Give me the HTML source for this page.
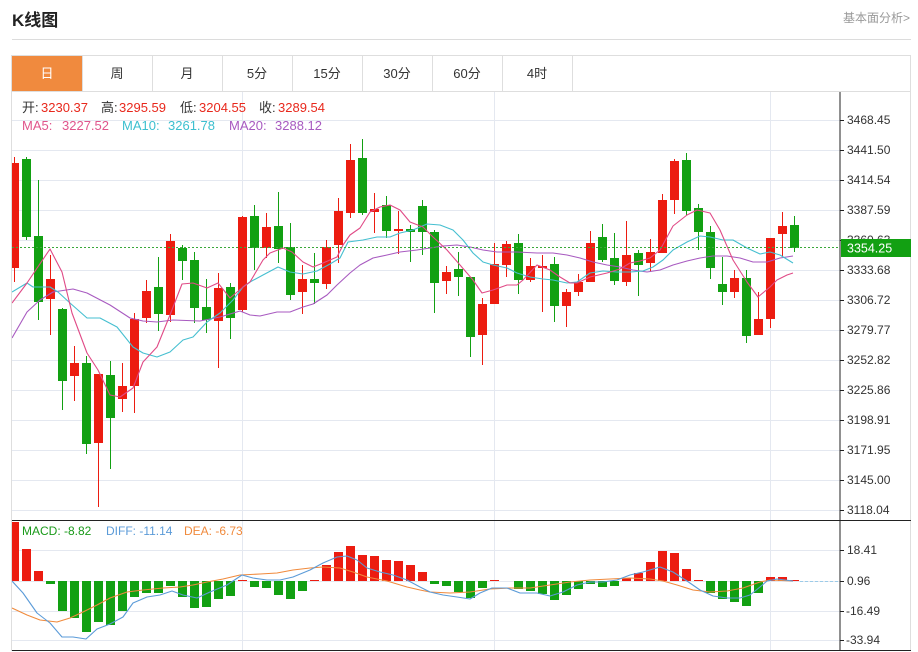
<!DOCTYPE html>
<html><head><meta charset="utf-8"><style>
html,body{margin:0;padding:0;background:#fff;}
svg{display:block;font-family:"Liberation Sans","Noto Sans CJK SC",sans-serif;}
</style></head><body>
<svg width="918" height="652" viewBox="0 0 918 652" xmlns="http://www.w3.org/2000/svg">
<defs>
<clipPath id="cm"><rect x="12" y="92" width="828" height="428"/></clipPath>
<clipPath id="cd"><rect x="12" y="521" width="828" height="129"/></clipPath>
</defs>
<!-- header -->
<text x="12" y="26" font-size="17" font-weight="bold" fill="#222">K线图</text>
<text x="910" y="22" font-size="12" fill="#999" text-anchor="end">基本面分析&gt;</text>
<rect x="12" y="39" width="899" height="1" fill="#dcdcdc"/>
<!-- outer box -->
<rect x="11.5" y="55.5" width="899" height="595" fill="none" stroke="#dedede"/>
<!-- tabs -->
<rect x="12" y="56" width="70" height="35" fill="#f08a3e"/>
<g fill="#dedede">
<rect x="82" y="56" width="1" height="35"/><rect x="152" y="56" width="1" height="35"/><rect x="222" y="56" width="1" height="35"/><rect x="292" y="56" width="1" height="35"/><rect x="362" y="56" width="1" height="35"/><rect x="432" y="56" width="1" height="35"/><rect x="502" y="56" width="1" height="35"/><rect x="572" y="56" width="1" height="35"/>
<rect x="12" y="91" width="899" height="1"/>
</g>
<g font-size="13" text-anchor="middle" fill="#333">
<text x="47" y="78" fill="#fff">日</text>
<text x="117" y="78">周</text>
<text x="187" y="78">月</text>
<text x="257" y="78">5分</text>
<text x="327" y="78">15分</text>
<text x="397" y="78">30分</text>
<text x="467" y="78">60分</text>
<text x="537" y="78">4时</text>
</g>
<!-- grid -->
<g fill="#e4e8f0">
<rect x="12" y="120" width="828" height="1"/><rect x="12" y="150" width="828" height="1"/><rect x="12" y="180" width="828" height="1"/><rect x="12" y="210" width="828" height="1"/><rect x="12" y="240" width="828" height="1"/><rect x="12" y="270" width="828" height="1"/><rect x="12" y="300" width="828" height="1"/><rect x="12" y="330" width="828" height="1"/><rect x="12" y="360" width="828" height="1"/><rect x="12" y="390" width="828" height="1"/><rect x="12" y="420" width="828" height="1"/><rect x="12" y="450" width="828" height="1"/><rect x="12" y="480" width="828" height="1"/><rect x="12" y="510" width="828" height="1"/>
<rect x="12" y="550" width="828" height="1"/><rect x="12" y="581" width="828" height="1"/><rect x="12" y="611" width="828" height="1"/><rect x="12" y="640" width="828" height="1"/>
<rect x="242" y="92" width="1" height="558"/><rect x="494" y="92" width="1" height="558"/><rect x="770" y="92" width="1" height="558"/>
</g>
<!-- info text -->
<g font-size="13">
<text x="22" y="112" fill="#333">开:</text><text x="41" y="112" fill="#e8281c">3230.37</text>
<text x="101" y="112" fill="#333">高:</text><text x="119" y="112" fill="#e8281c">3295.59</text>
<text x="180" y="112" fill="#333">低:</text><text x="199" y="112" fill="#e8281c">3204.55</text>
<text x="259" y="112" fill="#333">收:</text><text x="278" y="112" fill="#e8281c">3289.54</text>
<text x="22" y="130" fill="#e0558c">MA5:</text><text x="62" y="130" fill="#e0558c">3227.52</text>
<text x="122" y="130" fill="#3cbfcf">MA10:</text><text x="168" y="130" fill="#3cbfcf">3261.78</text>
<text x="229" y="130" fill="#a85ac0">MA20:</text><text x="275" y="130" fill="#a85ac0">3288.12</text>
</g>
<!-- candles -->
<g clip-path="url(#cm)">
<g fill="#ec1c10">
<rect x="14" y="157" width="1" height="125"/><rect x="10" y="163" width="9" height="105"/>
<rect x="50" y="255" width="1" height="80"/><rect x="46" y="279" width="9" height="20"/>
<rect x="74" y="346" width="1" height="55"/><rect x="70" y="363" width="9" height="13"/>
<rect x="98" y="374" width="1" height="133"/><rect x="94" y="374" width="9" height="69"/>
<rect x="122" y="363" width="1" height="49"/><rect x="118" y="386" width="9" height="13"/>
<rect x="134" y="313" width="1" height="100"/><rect x="130" y="319" width="9" height="67"/>
<rect x="146" y="280" width="1" height="43"/><rect x="142" y="291" width="9" height="27"/>
<rect x="170" y="234" width="1" height="88"/><rect x="166" y="241" width="9" height="74"/>
<rect x="218" y="273" width="1" height="95"/><rect x="214" y="288" width="9" height="33"/>
<rect x="242" y="216" width="1" height="96"/><rect x="238" y="217" width="9" height="93"/>
<rect x="266" y="213" width="1" height="45"/><rect x="262" y="227" width="9" height="21"/>
<rect x="302" y="265" width="1" height="49"/><rect x="298" y="279" width="9" height="13"/>
<rect x="326" y="240" width="1" height="49"/><rect x="322" y="247" width="9" height="37"/>
<rect x="338" y="198" width="1" height="65"/><rect x="334" y="211" width="9" height="34"/>
<rect x="350" y="144" width="1" height="74"/><rect x="346" y="160" width="9" height="53"/>
<rect x="374" y="193" width="1" height="40"/><rect x="370" y="209" width="9" height="3"/>
<rect x="398" y="211" width="1" height="43"/><rect x="394" y="229" width="9" height="2"/>
<rect x="446" y="266" width="1" height="28"/><rect x="442" y="272" width="9" height="9"/>
<rect x="482" y="298" width="1" height="67"/><rect x="478" y="304" width="9" height="31"/>
<rect x="494" y="243" width="1" height="61"/><rect x="490" y="264" width="9" height="40"/>
<rect x="506" y="241" width="1" height="36"/><rect x="502" y="244" width="9" height="21"/>
<rect x="530" y="258" width="1" height="24"/><rect x="526" y="266" width="9" height="14"/>
<rect x="542" y="255" width="1" height="57"/><rect x="538" y="266" width="9" height="2"/>
<rect x="566" y="289" width="1" height="38"/><rect x="562" y="292" width="9" height="14"/>
<rect x="578" y="274" width="1" height="22"/><rect x="574" y="282" width="9" height="10"/>
<rect x="590" y="231" width="1" height="51"/><rect x="586" y="243" width="9" height="39"/>
<rect x="626" y="221" width="1" height="65"/><rect x="622" y="255" width="9" height="27"/>
<rect x="650" y="239" width="1" height="33"/><rect x="646" y="252" width="9" height="11"/>
<rect x="662" y="194" width="1" height="59"/><rect x="658" y="200" width="9" height="53"/>
<rect x="674" y="159" width="1" height="55"/><rect x="670" y="161" width="9" height="39"/>
<rect x="734" y="270" width="1" height="28"/><rect x="730" y="278" width="9" height="14"/>
<rect x="758" y="292" width="1" height="43"/><rect x="754" y="319" width="9" height="16"/>
<rect x="770" y="238" width="1" height="90"/><rect x="766" y="238" width="9" height="81"/>
<rect x="782" y="212" width="1" height="45"/><rect x="778" y="226" width="9" height="8"/>
</g>
<g fill="#12a012">
<rect x="26" y="157" width="1" height="83"/><rect x="22" y="159" width="9" height="78"/>
<rect x="38" y="180" width="1" height="140"/><rect x="34" y="236" width="9" height="66"/>
<rect x="62" y="308" width="1" height="102"/><rect x="58" y="309" width="9" height="72"/>
<rect x="86" y="356" width="1" height="98"/><rect x="82" y="363" width="9" height="81"/>
<rect x="110" y="361" width="1" height="108"/><rect x="106" y="375" width="9" height="43"/>
<rect x="158" y="257" width="1" height="74"/><rect x="154" y="287" width="9" height="27"/>
<rect x="182" y="245" width="1" height="35"/><rect x="178" y="248" width="9" height="13"/>
<rect x="194" y="252" width="1" height="71"/><rect x="190" y="260" width="9" height="48"/>
<rect x="206" y="279" width="1" height="54"/><rect x="202" y="307" width="9" height="13"/>
<rect x="230" y="283" width="1" height="56"/><rect x="226" y="287" width="9" height="31"/>
<rect x="254" y="205" width="1" height="65"/><rect x="250" y="216" width="9" height="32"/>
<rect x="278" y="192" width="1" height="71"/><rect x="274" y="226" width="9" height="23"/>
<rect x="290" y="223" width="1" height="77"/><rect x="286" y="247" width="9" height="48"/>
<rect x="314" y="253" width="1" height="51"/><rect x="310" y="279" width="9" height="4"/>
<rect x="362" y="139" width="1" height="76"/><rect x="358" y="158" width="9" height="55"/>
<rect x="386" y="196" width="1" height="42"/><rect x="382" y="205" width="9" height="26"/>
<rect x="410" y="225" width="1" height="37"/><rect x="406" y="229" width="9" height="3"/>
<rect x="422" y="200" width="1" height="55"/><rect x="418" y="206" width="9" height="26"/>
<rect x="434" y="230" width="1" height="83"/><rect x="430" y="232" width="9" height="51"/>
<rect x="458" y="252" width="1" height="44"/><rect x="454" y="269" width="9" height="8"/>
<rect x="470" y="277" width="1" height="80"/><rect x="466" y="277" width="9" height="60"/>
<rect x="518" y="234" width="1" height="60"/><rect x="514" y="243" width="9" height="37"/>
<rect x="554" y="257" width="1" height="65"/><rect x="550" y="264" width="9" height="42"/>
<rect x="602" y="224" width="1" height="38"/><rect x="598" y="237" width="9" height="23"/>
<rect x="614" y="233" width="1" height="52"/><rect x="610" y="258" width="9" height="23"/>
<rect x="638" y="250" width="1" height="46"/><rect x="634" y="253" width="9" height="12"/>
<rect x="686" y="153" width="1" height="62"/><rect x="682" y="160" width="9" height="51"/>
<rect x="698" y="204" width="1" height="46"/><rect x="694" y="208" width="9" height="24"/>
<rect x="710" y="226" width="1" height="53"/><rect x="706" y="232" width="9" height="36"/>
<rect x="722" y="257" width="1" height="48"/><rect x="718" y="284" width="9" height="8"/>
<rect x="746" y="270" width="1" height="73"/><rect x="742" y="278" width="9" height="58"/>
<rect x="794" y="216" width="1" height="36"/><rect x="790" y="225" width="9" height="23"/>
</g>
<!-- MA lines -->
<g fill="none" stroke-width="1.1" stroke-linejoin="round">
<polyline stroke="#a85ac0" points="12,338 27,312 40,300 53,292 73,289 87,293 110,305 130,318 143,321 157,322 173,320 200,321 220,317 240,311 250,315 260,316 277,312 290,312 303,307 313,304 327,295 337,285 350,273 360,265 373,258 387,255 400,252 417,250 430,248 443,246 457,245 470,247 483,250 497,252 517,252 537,253 553,253 567,255 580,258 593,262 607,265 620,267 633,270 647,272 660,270 673,265 687,261 700,258 713,256 727,256 740,258 753,262 767,262 780,258 793,256"/>
<polyline stroke="#45bfd0" points="12,292 27,283 33,287 50,287 58,292 70,303 87,318 100,318 117,327 133,347 143,353 157,357 170,352 183,340 193,337 207,322 220,313 233,300 243,287 250,282 263,275 278,267 290,272 303,274 317,271 330,264 340,258 348,242 363,240 377,237 390,237 400,233 413,230 427,224 440,225 453,230 463,240 473,253 483,262 493,265 507,268 517,273 530,277 543,279 553,280 567,283 577,282 590,273 603,271 617,272 630,272 643,271 653,267 663,260 673,250 687,242 700,236 710,237 723,240 733,240 747,248 760,254 770,252 780,255 793,263"/>
<polyline stroke="#e04a86" points="12,303 27,283 50,249 62,272 72,313 87,353 98,370 110,395 120,397 133,388 143,362 157,347 170,315 182,284 193,283 207,288 218,283 230,298 243,287 250,282 263,260 270,253 283,248 292,252 303,262 313,267 323,263 337,257 343,245 350,235 360,228 370,212 380,207 390,205 400,210 410,222 423,227 433,237 447,250 460,265 473,280 482,293 493,290 507,285 517,285 523,280 537,265 550,270 560,277 570,283 577,283 590,277 607,273 620,269 630,263 640,261 650,258 660,250 673,226 687,215 697,210 710,213 720,230 733,260 747,282 758,297 770,287 777,280 787,275 793,273"/>
</g>
</g>
<!-- current price dotted -->
<line x1="12" y1="247.5" x2="840" y2="247.5" stroke="#3aa83a" stroke-width="1" stroke-dasharray="2,2"/>
<!-- MACD histogram -->
<g clip-path="url(#cd)">
<g fill="#ec1c10">
<rect x="10" y="522" width="9" height="59"/><rect x="22" y="549" width="9" height="32"/><rect x="34" y="571" width="9" height="10"/>
<rect x="238" y="580" width="9" height="1"/><rect x="310" y="580" width="9" height="1"/>
<rect x="322" y="565" width="9" height="16"/><rect x="334" y="552" width="9" height="29"/><rect x="346" y="546" width="9" height="35"/><rect x="358" y="555" width="9" height="26"/><rect x="370" y="556" width="9" height="25"/><rect x="382" y="560" width="9" height="21"/><rect x="394" y="561" width="9" height="20"/><rect x="406" y="565" width="9" height="16"/><rect x="418" y="572" width="9" height="9"/>
<rect x="490" y="580" width="9" height="1"/>
<rect x="622" y="578" width="9" height="3"/><rect x="634" y="573" width="9" height="8"/><rect x="646" y="562" width="9" height="19"/><rect x="658" y="551" width="9" height="30"/><rect x="670" y="553" width="9" height="28"/><rect x="682" y="569" width="9" height="12"/><rect x="694" y="580" width="9" height="1"/>
<rect x="766" y="577" width="9" height="4"/><rect x="778" y="577" width="9" height="4"/><rect x="790" y="580" width="9" height="1"/>
</g>
<g fill="#12a012">
<rect x="46" y="581" width="9" height="3"/><rect x="58" y="581" width="9" height="30"/><rect x="70" y="581" width="9" height="37"/><rect x="82" y="581" width="9" height="51"/><rect x="94" y="581" width="9" height="41"/><rect x="106" y="581" width="9" height="44"/><rect x="118" y="581" width="9" height="30"/><rect x="130" y="581" width="9" height="16"/><rect x="142" y="581" width="9" height="12"/><rect x="154" y="581" width="9" height="12"/><rect x="166" y="581" width="9" height="5"/><rect x="178" y="581" width="9" height="16"/><rect x="190" y="581" width="9" height="27"/><rect x="202" y="581" width="9" height="26"/><rect x="214" y="581" width="9" height="18"/><rect x="226" y="581" width="9" height="15"/>
<rect x="250" y="581" width="9" height="6"/><rect x="262" y="581" width="9" height="7"/><rect x="274" y="581" width="9" height="14"/><rect x="286" y="581" width="9" height="18"/><rect x="298" y="581" width="9" height="10"/>
<rect x="430" y="581" width="9" height="3"/><rect x="442" y="581" width="9" height="5"/><rect x="454" y="581" width="9" height="11"/><rect x="466" y="581" width="9" height="17"/><rect x="478" y="581" width="9" height="7"/>
<rect x="514" y="581" width="9" height="8"/><rect x="526" y="581" width="9" height="10"/><rect x="538" y="581" width="9" height="13"/><rect x="550" y="581" width="9" height="19"/><rect x="562" y="581" width="9" height="14"/><rect x="574" y="581" width="9" height="8"/><rect x="586" y="581" width="9" height="3"/><rect x="598" y="581" width="9" height="6"/><rect x="610" y="581" width="9" height="5"/>
<rect x="706" y="581" width="9" height="12"/><rect x="718" y="581" width="9" height="18"/><rect x="730" y="581" width="9" height="21"/><rect x="742" y="581" width="9" height="25"/><rect x="754" y="581" width="9" height="12"/>
</g>
<line x1="800" y1="581.5" x2="840" y2="581.5" stroke="#9ccbe8" stroke-dasharray="3,2"/>
<g fill="none" stroke-width="1.1" stroke-linejoin="round">
<polyline stroke="#f08a3c" points="12,608 27,615 40,620 57,622 70,618 83,612 97,605 110,598 127,592 143,590 163,588 180,587 193,585 207,582 223,579 240,575 260,574 277,573 293,570 310,568 323,567 340,568 353,572 367,577 387,581 407,587 420,590 430,592 450,593 470,592 490,589 510,588 530,588 550,585 570,582 590,580 610,579 630,578 650,579 663,581 677,585 693,590 710,592 727,591 743,588 760,582 770,580 793,581"/>
<polyline stroke="#5b9bd8" points="12,581 23,593 37,613 50,623 62,637 73,637 86,639 97,629 110,624 123,617 133,603 147,597 160,595 172,591 183,595 197,598 210,592 227,585 242,575 253,578 267,580 280,580 293,577 310,570 323,563 337,557 347,556 357,560 367,568 380,572 393,575 407,580 420,587 430,592 443,595 457,597 470,599 480,593 492,588 507,588 520,593 537,593 550,596 563,592 577,585 590,582 603,582 617,580 630,575 643,572 660,567 673,572 687,581 700,590 713,596 727,598 740,598 750,595 760,587 767,581 777,579 793,581"/>
</g>
</g>
<!-- MACD labels -->
<g font-size="12">
<text x="22" y="535" fill="#1a9a1a">MACD: -8.82</text>
<text x="106" y="535" fill="#5b9bd8">DIFF: -11.14</text>
<text x="184" y="535" fill="#f08a3c">DEA: -6.73</text>
</g>
<!-- axis -->
<rect x="839.5" y="92" width="1" height="558" fill="#222"/>
<rect x="12" y="520" width="899" height="1" fill="#222"/>
<rect x="12" y="650" width="899" height="1" fill="#222"/>
<g fill="#222">
<rect x="840" y="120" width="4" height="1"/><rect x="840" y="150" width="4" height="1"/><rect x="840" y="180" width="4" height="1"/><rect x="840" y="210" width="4" height="1"/><rect x="840" y="240" width="4" height="1"/><rect x="840" y="270" width="4" height="1"/><rect x="840" y="300" width="4" height="1"/><rect x="840" y="330" width="4" height="1"/><rect x="840" y="360" width="4" height="1"/><rect x="840" y="390" width="4" height="1"/><rect x="840" y="420" width="4" height="1"/><rect x="840" y="450" width="4" height="1"/><rect x="840" y="480" width="4" height="1"/><rect x="840" y="510" width="4" height="1"/>
<rect x="840" y="550" width="4" height="1"/><rect x="840" y="581" width="4" height="1"/><rect x="840" y="611" width="4" height="1"/><rect x="840" y="640" width="4" height="1"/>
</g>
<g font-size="12" fill="#333">
<text x="847" y="124">3468.45</text><text x="847" y="154">3441.50</text><text x="847" y="184">3414.54</text><text x="847" y="214">3387.59</text><text x="847" y="244">3360.63</text><text x="847" y="274">3333.68</text><text x="847" y="304">3306.72</text><text x="847" y="334">3279.77</text><text x="847" y="364">3252.82</text><text x="847" y="394">3225.86</text><text x="847" y="424">3198.91</text><text x="847" y="454">3171.95</text><text x="847" y="484">3145.00</text><text x="847" y="514">3118.04</text>
<text x="847" y="554">18.41</text><text x="847" y="585">0.96</text><text x="846" y="615">-16.49</text><text x="846" y="644">-33.94</text>
</g>
<!-- current price label -->
<rect x="841" y="239" width="70" height="18" fill="#12a012"/>
<text x="847" y="252.5" font-size="12.5" fill="#fff">3354.25</text>
</svg>
</body></html>
